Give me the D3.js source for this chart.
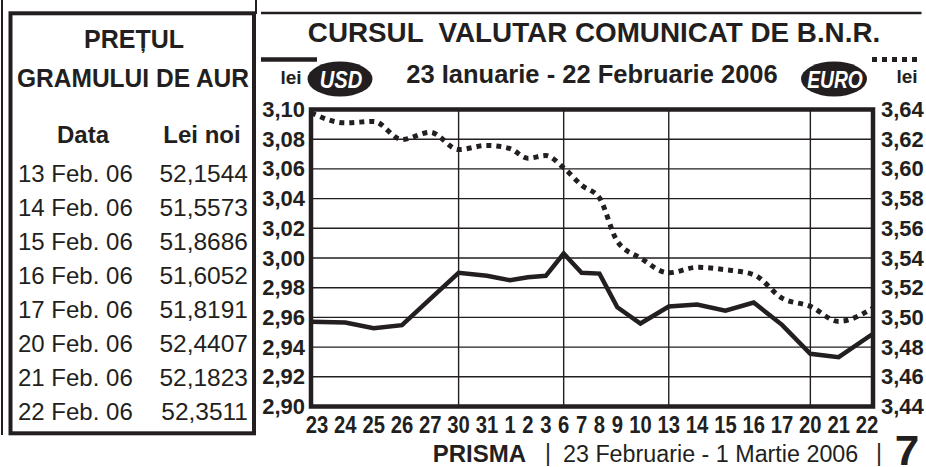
<!DOCTYPE html>
<html lang="ro">
<head>
<meta charset="utf-8">
<script src="https://cdn.jsdelivr.net/npm/d3@7"></script>
<style>
  body{margin:0;background:#fff;}
  svg{display:block;font-family:"Liberation Sans",Arial,sans-serif;}
  text{fill:#231f20;}
</style>
</head>
<body>
<svg width="926" height="467"></svg>
<script>
// trading days, 23 Jan - 22 Feb 2006
var days = ["23","24","25","26","27","30","31","1","2","3","6","7","8","9","10","13","14","15","16","17","20","21","22"];
var usdValues = [2.957,2.9566,2.9527,2.9548,2.9725,2.990,2.988,2.985,2.987,2.988,3.003,2.990,2.9895,2.9668,2.9559,2.9673,2.9686,2.9645,2.970,2.955,2.9355,2.9332,2.949];
var euroValues = [3.6378,3.631,3.632,3.6198,3.6247,3.613,3.6158,3.6137,3.6072,3.609,3.6007,3.589,3.5804,3.5512,3.540,3.530,3.5337,3.5321,3.5288,3.513,3.5074,3.4973,3.5063];
var usdTicks = [2.90,2.92,2.94,2.96,2.98,3.00,3.02,3.04,3.06,3.08,3.10];
var euroTicks = [3.44,3.46,3.48,3.50,3.52,3.54,3.56,3.58,3.60,3.62,3.64];
var weekStarts = ["30","6","13","20"];

var goldDates = ["13 Feb. 06","14 Feb. 06","15 Feb. 06","16 Feb. 06","17 Feb. 06","20 Feb. 06","21 Feb. 06","22 Feb. 06"];
var goldPrices = [52.1544,51.5573,51.8686,51.6052,51.8191,52.4407,52.1823,52.3511];

var ink = "#231f20";
var svg = d3.select("svg");

var comma = function(f){
  var fmt = d3.format(f);
  return function(v){ return fmt(v).replace(".", ","); };
};

// text helper, sx narrows the face where the print uses a condensed one
var label = function(g, txt, x, y, size, sx, opts){
  opts = opts || {};
  return g.append("text")
    .attr("transform","translate("+x+","+y+") scale("+sx+",1)")
    .attr("text-anchor", opts.anchor || "middle")
    .attr("font-size", size)
    .attr("font-weight", opts.weight || "bold")
    .attr("font-style", opts.style || null)
    .style("white-space","pre")
    .style("fill", opts.fill || ink)
    .text(txt);
};

// ---------- page rules ----------
svg.append("line").attr("x1",2).attr("x2",2).attr("y1",0).attr("y2",435)
   .attr("stroke",ink).attr("stroke-width",2);
svg.append("line").attr("x1",256).attr("x2",256).attr("y1",0).attr("y2",14)
   .attr("stroke",ink).attr("stroke-width",2);

// ---------- gold price box ----------
var box = svg.append("g");
box.append("rect").attr("x",10.5).attr("y",13.3).attr("width",243.5).attr("height",420)
   .attr("fill","none").attr("stroke",ink).attr("stroke-width",4);

label(box,"PREȚUL",134,47.5,25,1);
label(box,"GRAMULUI DE AUR",133,87,25.3,0.97);
label(box,"Data",83,143,24,1);
label(box,"Lei noi",202,143,24,1);

var rowY = d3.scalePoint().domain(goldDates).range([182,420]);
box.selectAll(".gdate").data(goldDates).enter().append("text")
   .attr("class","gdate")
   .attr("x",18).attr("y",function(d){ return rowY(d); })
   .attr("font-size",24)
   .text(function(d){ return d; });
box.selectAll(".gprice").data(goldPrices).enter().append("text")
   .attr("class","gprice")
   .attr("x",248).attr("y",function(d,i){ return rowY(goldDates[i]); })
   .attr("text-anchor","end")
   .attr("font-size",24.5)
   .text(comma(".4f"));

// ---------- header ----------
var head = svg.append("g");
head.append("line").attr("x1",261).attr("x2",921.5).attr("y1",13).attr("y2",13)
    .attr("stroke",ink).attr("stroke-width",2.6);
label(head,"CURSUL  VALUTAR COMUNICAT DE B.N.R.",594,42,27.8,1);
label(head,"23 Ianuarie - 22 Februarie 2006",592,83,25.5,1);

// legend: USD solid / EURO dotted
head.append("line").attr("x1",261).attr("x2",317).attr("y1",59.5).attr("y2",59.5)
    .attr("stroke",ink).attr("stroke-width",4.5);
label(head,"lei",291,84,19,1);
head.append("ellipse").attr("cx",340).attr("cy",79).attr("rx",32.5).attr("ry",17.5).attr("fill",ink);
label(head,"USD",341,87.5,24,0.84,{style:"italic",fill:"#fff"});

head.append("line").attr("x1",872).attr("x2",921).attr("y1",59.5).attr("y2",59.5)
    .attr("stroke",ink).attr("stroke-width",5).attr("stroke-dasharray","5,5");
label(head,"lei",907,83,19,1);
head.append("ellipse").attr("cx",834).attr("cy",79).attr("rx",33).attr("ry",17.5).attr("fill",ink);
label(head,"EURO",835,87.5,24,0.8,{style:"italic",fill:"#fff"});

// ---------- chart ----------
var plot = {left:311, right:873, top:109.5, bottom:406.5};

// day positions follow the typeset label row: a digit is one unit, a gap ~0.71 unit
var gap = 0.714;
var centers = [];
var run = 0;
days.forEach(function(d,i){
  if(i>0) run += gap;
  centers.push(run + d.length/2);
  run += d.length;
});
var x = d3.scaleLinear()
          .domain([centers[0], centers[centers.length-1]])
          .range([plot.left+6, plot.right-6]);
var yUsd = d3.scaleLinear().domain([2.90,3.10]).range([plot.bottom, plot.top]);
var yEuro = d3.scaleLinear().domain([3.44,3.64]).range([plot.bottom, plot.top]);

// lines run from frame edge to frame edge
var xAt = function(d,i){
  if(i===0) return x.range()[0]-6;
  if(i===days.length-1) return x.range()[1]+6;
  return x(centers[i]);
};

var chart = svg.append("g");

chart.selectAll(".hgrid").data(usdTicks.slice(1,-1)).enter().append("line")
     .attr("x1",plot.left).attr("x2",plot.right)
     .attr("y1",function(d){ return yUsd(d); }).attr("y2",function(d){ return yUsd(d); })
     .attr("stroke",ink).attr("stroke-width",1.4);

chart.selectAll(".vgrid").data(weekStarts).enter().append("line")
     .attr("x1",function(d){ return x(centers[days.indexOf(d)]); })
     .attr("x2",function(d){ return x(centers[days.indexOf(d)]); })
     .attr("y1",plot.top).attr("y2",plot.bottom)
     .attr("stroke",ink).attr("stroke-width",1.4);

var euroLine = d3.line()
    .x(xAt)
    .y(function(d){ return yEuro(d); })
    .curve(d3.curveMonotoneX);
chart.append("path").datum(euroValues)
     .attr("d",euroLine)
     .attr("fill","none").attr("stroke",ink)
     .attr("stroke-width",5).attr("stroke-dasharray","5,5");

var usdLine = d3.line()
    .x(xAt)
    .y(function(d){ return yUsd(d); });
chart.append("path").datum(usdValues)
     .attr("d",usdLine)
     .attr("fill","none").attr("stroke",ink)
     .attr("stroke-width",4.5).attr("stroke-linejoin","miter");

chart.append("rect")
     .attr("x",plot.left).attr("y",plot.top)
     .attr("width",plot.right-plot.left).attr("height",plot.bottom-plot.top)
     .attr("fill","none").attr("stroke",ink).attr("stroke-width",4.5);

var styleAxis = function(g){
  g.select(".domain").remove();
  g.attr("font-family",null).attr("font-size",22).attr("font-weight","bold").attr("color",ink);
};

chart.append("g")
     .attr("transform","translate("+plot.left+",0)")
     .call(d3.axisLeft(yUsd).tickValues(usdTicks).tickFormat(comma(".2f")).tickSize(0).tickPadding(6))
     .call(styleAxis);

chart.append("g")
     .attr("transform","translate("+plot.right+",0)")
     .call(d3.axisRight(yEuro).tickValues(euroTicks).tickFormat(comma(".2f")).tickSize(0).tickPadding(8))
     .call(styleAxis);

var xLabels = chart.append("g");
days.forEach(function(d,i){
  label(xLabels, d, x(centers[i]), 433, 23, 0.88);
});

// ---------- footer ----------
var foot = svg.append("g");
label(foot,"PRISMA",526,462,24,1,{anchor:"end"});
label(foot,"|",548,461,23,1,{weight:"normal"});
label(foot,"23 Februarie - 1 Martie 2006",563,462,23.3,1,{anchor:"start",weight:"normal"});
label(foot,"|",879,461,23,1,{weight:"normal"});
label(foot,"7",907,465,42,1.05,{weight:"900"});
</script>
</body>
</html>
